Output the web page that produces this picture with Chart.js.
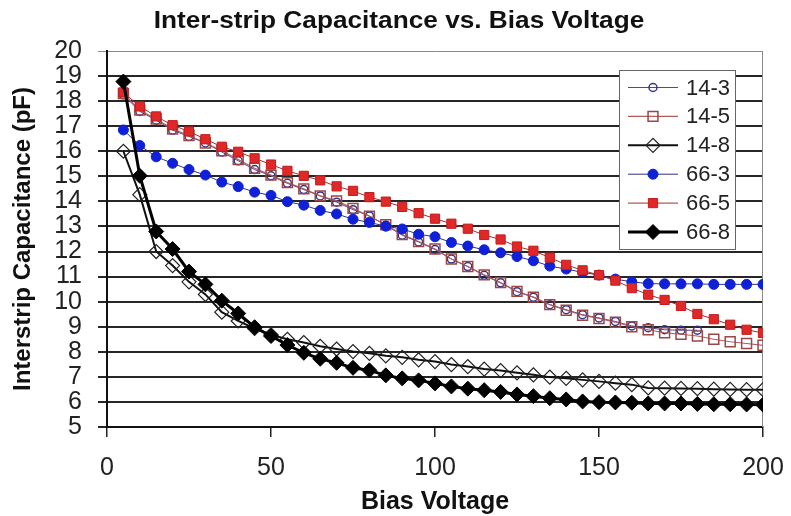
<!DOCTYPE html>
<html>
<head>
<meta charset="utf-8">
<title>Inter-strip Capacitance vs. Bias Voltage</title>
<script src="https://cdn.jsdelivr.net/npm/chart.js@4/dist/chart.umd.min.js"></script>
<style>
  html, body { margin: 0; padding: 0; background: #fff; }
  #chart { display: block; }
</style>
</head>
<body>
<canvas id="chart" width="791" height="516"></canvas>
<script>
// bias voltage steps (V)
var volts = [5, 10, 15, 20, 25, 30, 35, 40, 45, 50, 55, 60, 65, 70, 75, 80, 85, 90, 95, 100,
  105, 110, 115, 120, 125, 130, 135, 140, 145, 150, 155, 160, 165, 170, 175, 180, 185, 190, 195, 200]

// interstrip capacitance (pF)
var cap_14_3 = [18.25, 17.59, 17.24, 16.84, 16.59, 16.33, 15.97, 15.62, 15.27, 15.02, 14.72, 14.47, 14.22, 13.97, 13.67, 13.42,
  13.05, 12.65, 12.38, 12.08, 11.7, 11.4, 11.05, 10.75, 10.4, 10.18, 9.88, 9.68, 9.48, 9.35, 9.21, 9.03, 8.96, 8.88, 8.86, 8.86]
var cap_14_5 = [18.3, 17.64, 17.29, 16.89, 16.63, 16.33, 16.02, 15.67, 15.32, 15.05, 14.75, 14.5, 14.22, 14.02, 13.72, 13.41,
  13.07, 12.68, 12.4, 12.1, 11.7, 11.4, 11.07, 10.76, 10.41, 10.18, 9.88, 9.66, 9.46, 9.33, 9.18, 9.0, 8.88, 8.76, 8.7, 8.63,
  8.5, 8.4, 8.33, 8.26]
var cap_14_8 = [16.0, 14.27, 12.0, 11.44, 10.79, 10.29, 9.58, 9.23, 8.93, 8.68, 8.5, 8.37, 8.22, 8.11, 8.01, 7.94, 7.84, 7.78,
  7.68, 7.61, 7.49, 7.41, 7.31, 7.25, 7.16, 7.08, 6.99, 6.94, 6.88, 6.82, 6.75, 6.69, 6.56, 6.55, 6.54, 6.53, 6.51, 6.5, 6.49, 6.49]
var cap_66_3 = [16.85, 16.23, 15.78, 15.52, 15.27, 15.05, 14.77, 14.59, 14.37, 14.24, 13.99, 13.85, 13.64, 13.5, 13.29, 13.16,
  13.01, 12.9, 12.69, 12.59, 12.36, 12.22, 12.07, 11.95, 11.8, 11.63, 11.42, 11.3, 11.17, 11.06, 10.9, 10.79, 10.72, 10.71,
  10.71, 10.71, 10.69, 10.69, 10.69, 10.69]
var cap_66_5 = [18.35, 17.79, 17.39, 17.04, 16.79, 16.48, 16.18, 15.98, 15.72, 15.47, 15.22, 15.02, 14.84, 14.6, 14.42, 14.17,
  13.99, 13.78, 13.53, 13.31, 13.11, 12.91, 12.66, 12.48, 12.2, 12.03, 11.76, 11.47, 11.25, 11.06, 10.84, 10.54, 10.28, 10.07,
  9.83, 9.51, 9.3, 9.08, 8.88, 8.75]
var cap_66_8 = [18.78, 15.02, 12.8, 12.1, 11.2, 10.69, 10.04, 9.53, 8.98, 8.63, 8.27, 7.96, 7.72, 7.56, 7.36, 7.26, 7.06, 6.94,
  6.86, 6.74, 6.62, 6.53, 6.47, 6.4, 6.3, 6.23, 6.15, 6.1, 6.02, 5.99, 5.98, 5.97, 5.94, 5.94, 5.94, 5.92, 5.91, 5.91, 5.9, 5.89]

var seriesNames = ['14-3', '14-5', '14-8', '66-3', '66-5', '66-8']
var xTicks = [0, 50, 100, 150, 200]
var yTicks = [5, 6, 7, 8, 9, 10, 11, 12, 13, 14, 15, 16, 17, 18, 19, 20]
var chartTitle = 'Inter-strip Capacitance vs. Bias Voltage'

var FONT = '"Liberation Sans", Arial, Helvetica, sans-serif'

function toPoints(ys) {
  return ys.map(function (y, i) {
    return { x: volts[i], y: y }
  })
}

function series(name, ys, opts) {
  return Object.assign({
    label: name,
    data: toPoints(ys),
    tension: 0,
    fill: false
  }, opts)
}

// title (a bit wide, like the original) + right frame line + legend box inside the plot
var boxLegend = {
  id: 'boxLegend',
  beforeDatasetsDraw: function (chart) {
    var ctx = chart.ctx, a = chart.chartArea
    ctx.save()
    ctx.strokeStyle = '#8a8a8a'
    ctx.lineWidth = 1
    ctx.beginPath()
    ctx.moveTo(a.right - 0.5, a.top)
    ctx.lineTo(a.right - 0.5, a.bottom)
    ctx.stroke()
    ctx.restore()
  },
  afterDatasetsDraw: function (chart) {
    var ctx = chart.ctx, a = chart.chartArea
    var left = a.right - 144, top = a.top + 19, w = 116, h = 179
    ctx.save()
    ctx.fillStyle = '#fff'
    ctx.fillRect(left, top, w, h)
    ctx.strokeStyle = '#666'
    ctx.lineWidth = 1
    ctx.strokeRect(left + 0.5, top + 0.5, w, h)
    chart.data.datasets.forEach(function (ds, i) {
      var y = top + 17.5 + i * 28.9
      ctx.strokeStyle = ds.borderColor
      ctx.lineWidth = ds.borderWidth
      ctx.beginPath()
      ctx.moveTo(left + 9, y)
      ctx.lineTo(left + 59, y)
      ctx.stroke()
      ctx.fillStyle = ds.pointBackgroundColor
      ctx.strokeStyle = ds.pointBorderColor
      ctx.lineWidth = ds.pointBorderWidth
      Chart.helpers.drawPoint(ctx, {
        pointStyle: ds.pointStyle, radius: ds.pointRadius,
        borderWidth: ds.pointBorderWidth, rotation: 0
      }, left + 34, y)
      ctx.fillStyle = '#222'
      ctx.font = '22px ' + FONT
      ctx.textAlign = 'left'
      ctx.textBaseline = 'middle'
      ctx.fillText(ds.label, left + 67, y + 1)
    })
    ctx.restore()

    ctx.save()
    ctx.font = 'bold 23px ' + FONT
    ctx.fillStyle = '#111'
    ctx.textAlign = 'center'
    ctx.textBaseline = 'middle'
    ctx.translate(399, 22)
    ctx.scale(1.14, 1)
    ctx.fillText(chartTitle, 0, 0)
    ctx.restore()
  }
}

new Chart(document.getElementById('chart'), {
  type: 'line',
  data: {
    datasets: [
      series(seriesNames[0], cap_14_3, {
        borderColor: '#4a4a98', borderWidth: 1, order: 6,
        pointStyle: 'circle', pointRadius: 4, pointBorderWidth: 1.5,
        pointBorderColor: '#34348a', pointBackgroundColor: 'rgba(255,255,255,0)'
      }),
      series(seriesNames[1], cap_14_5, {
        borderColor: '#b05c5c', borderWidth: 1.2, order: 5,
        pointStyle: 'rect', pointRadius: 7, pointBorderWidth: 1.5,
        pointBorderColor: '#9c4646', pointBackgroundColor: 'rgba(255,255,255,0)'
      }),
      series(seriesNames[2], cap_14_8, {
        borderColor: '#111', borderWidth: 2, order: 4,
        pointStyle: 'rectRot', pointRadius: 7, pointBorderWidth: 1.2,
        pointBorderColor: '#222', pointBackgroundColor: 'rgba(255,255,255,0)'
      }),
      series(seriesNames[3], cap_66_3, {
        borderColor: '#303080', borderWidth: 1, order: 3,
        pointStyle: 'circle', pointRadius: 5, pointBorderWidth: 1,
        pointBorderColor: '#1020d0', pointBackgroundColor: '#1020d8'
      }),
      series(seriesNames[4], cap_66_5, {
        borderColor: '#a03030', borderWidth: 1, order: 2,
        pointStyle: 'rect', pointRadius: 6.5, pointBorderWidth: 1,
        pointBorderColor: '#c41c1c', pointBackgroundColor: '#e02828'
      }),
      series(seriesNames[5], cap_66_8, {
        borderColor: '#000', borderWidth: 3, order: 1,
        pointStyle: 'rectRot', pointRadius: 7.5, pointBorderWidth: 1,
        pointBorderColor: '#000', pointBackgroundColor: '#000'
      })
    ]
  },
  options: {
    responsive: false,
    animation: false,
    devicePixelRatio: 1,
    layout: { padding: { left: 0, right: 28, top: 51, bottom: 0 } },
    plugins: {
      legend: { display: false },
      tooltip: { enabled: false },
      title: { display: false }
    },
    scales: {
      x: {
        type: 'linear',
        min: 0,
        max: 200,
        afterBuildTicks: function (s) {
          s.ticks = xTicks.map(function (v) { return { value: v } })
        },
        afterFit: function (s) {
          s.height = 89
          s.paddingLeft = 0
          s.paddingRight = 0
        },
        grid: { drawOnChartArea: false, drawTicks: true, tickLength: 10, color: '#222', lineWidth: 1.5 },
        border: { color: '#111', width: 2 },
        ticks: {
          color: '#222', padding: 20, maxRotation: 0, autoSkip: false,
          font: { family: FONT, size: 25, lineHeight: 0.9 }
        },
        title: {
          display: true,
          text: 'Bias Voltage',
          color: '#111',
          font: { family: FONT, size: 25, weight: 'bold', lineHeight: 1.2 },
          padding: { top: 0, bottom: -1 }
        }
      },
      y: {
        min: 5,
        max: 20,
        afterBuildTicks: function (s) {
          s.ticks = yTicks.map(function (v) { return { value: v } })
        },
        afterFit: function (s) {
          s.width = 107
          s.paddingTop = 0
          s.paddingBottom = 0
        },
        grid: {
          tickLength: 9,
          color: function (c) { return c.tick && c.tick.value === 20 ? '#8a8a8a' : '#262626' },
          lineWidth: function (c) { return c.tick && c.tick.value === 20 ? 1 : 2 }
        },
        border: { color: '#111', width: 2 },
        ticks: {
          color: '#222', padding: 16, autoSkip: false,
          font: { family: FONT, size: 25, lineHeight: 0.9 }
        },
        title: {
          display: true,
          text: 'Interstrip Capacitance (pF)',
          color: '#111',
          font: { family: FONT, size: 24, weight: 'bold', lineHeight: 1.2 },
          padding: { top: 9, bottom: 0 }
        }
      }
    }
  },
  plugins: [boxLegend]
})
</script>
</body>
</html>
